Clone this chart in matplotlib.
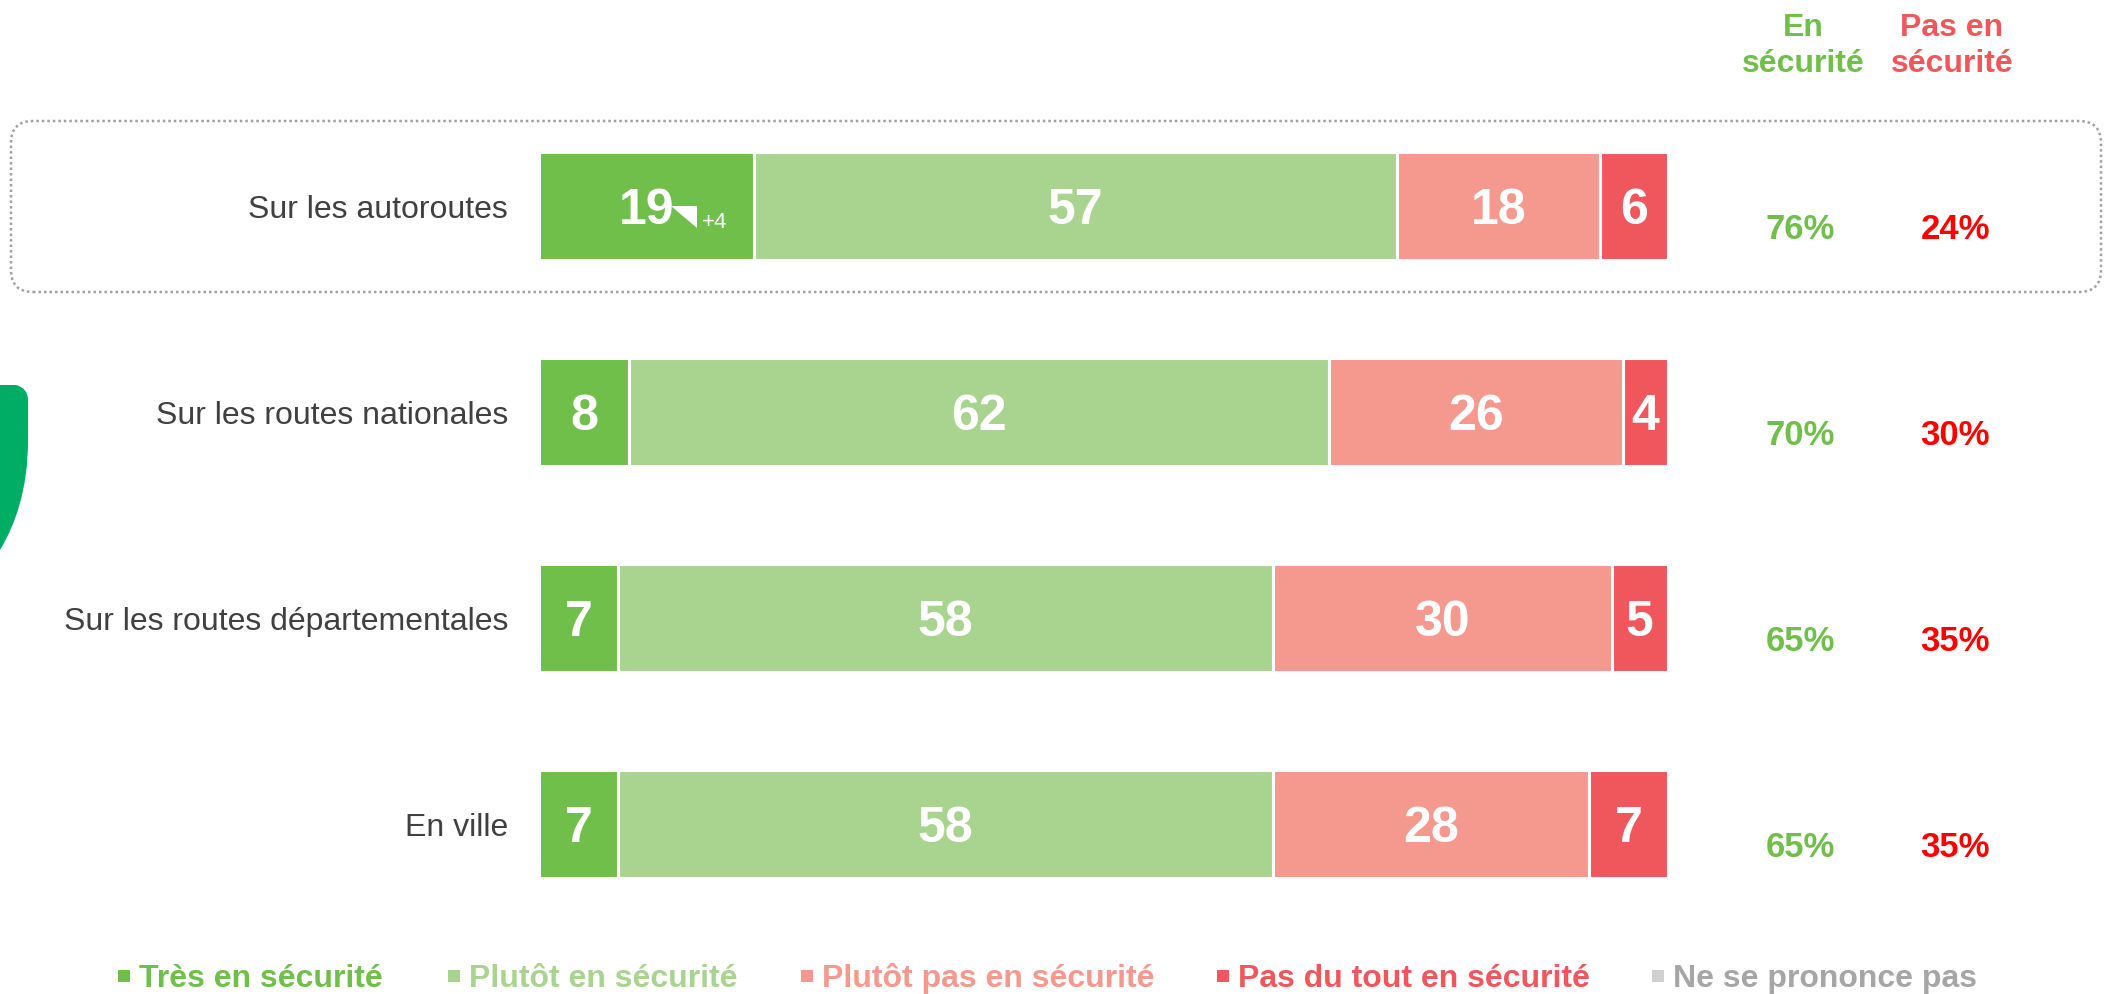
import numpy as np
import matplotlib
matplotlib.use('Agg')
from matplotlib import pyplot as plt
from matplotlib import transforms
from matplotlib.patches import FancyBboxPatch, Rectangle, Polygon, PathPatch
from matplotlib.path import Path

plt.rcParams['font.family'] = ['Liberation Sans', 'DejaVu Sans']

categories = ['Sur les autoroutes', 'Sur les routes nationales',
              'Sur les routes départementales', 'En ville']
tres = [19, 8, 7, 7]
plutot = [57, 62, 58, 58]
plutot_pas = [18, 26, 30, 28]
pas_du_tout = [6, 4, 5, 7]
en_securite = [76, 70, 65, 65]
pas_en_securite = [24, 30, 35, 35]
evolution = ['+4', None, None, None]

series_labels = ['Très en sécurité', 'Plutôt en sécurité', 'Plutôt pas en sécurité',
                 'Pas du tout en sécurité', 'Ne se prononce pas']
series_colors = ['#70BF4B', '#A9D48F', '#F5988E', '#F0575C', '#D0D0D0']
legend_text_colors = ['#70BF4B', '#A9D48F', '#F5988E', '#F0575C', '#A6A6A6']

W, H = 2108, 994
fig = plt.figure(figsize=(W / 100, H / 100), dpi=100)


def px(x, y):
    # pixel position (from top-left) -> inches for fig.dpi_scale_trans
    return (x / 100.0, (H - y) / 100.0)


# axes: 0..100 spans px 539..1668, rows centred at 206..824
ax = fig.add_axes([539 / W, 1 - 927 / H, 1129 / W, 824 / H])
ax.set_xlim(0, 100)
ax.set_ylim(3.5, -0.5)
ax.axis('off')

y = np.arange(len(categories))
left = np.zeros(len(categories))
for vals, col in zip([tres, plutot, plutot_pas, pas_du_tout], series_colors):
    vals = np.array(vals, dtype=float)
    ax.barh(y, vals, left=left, height=0.52, color=col, edgecolor='white', linewidth=2.2)
    for yi, l, v in zip(y, left, vals):
        if v > 0:
            ax.text(l + v / 2, yi, '%d' % v, ha='center', va='center_baseline',
                    color='white', fontsize=36, fontweight='bold')
    left += vals

# evolution marker on first row
for yi, (ev, v) in enumerate(zip(evolution, tres)):
    if ev is None:
        continue
    trans = fig.dpi_scale_trans + transforms.ScaledTranslation(v / 2, yi, ax.transData)
    ax.add_patch(Polygon([(0.25, 0.0), (0.51, 0.0), (0.51, -0.22)], closed=True,
                         facecolor='white', edgecolor='none', transform=trans, clip_on=False))
    ax.text(0.56, -0.22, ev, transform=trans, ha='left', va='baseline',
            color='white', fontsize=16)

# category labels and totals
blend = transforms.blended_transform_factory(fig.transFigure, ax.transData)
for yi, cat in enumerate(categories):
    ax.text(508 / W, yi + 0.02, cat, transform=blend, ha='right', va='center',
            fontsize=23, color='#404040')
    ax.text(1800 / W, yi + 0.115, '%d%%' % en_securite[yi], transform=blend,
            ha='center', va='center', fontsize=25, fontweight='bold', color='#70BF4B')
    ax.text(1955 / W, yi + 0.115, '%d%%' % pas_en_securite[yi], transform=blend,
            ha='center', va='center', fontsize=25, fontweight='bold', color='#FF0000')

# column headers
fig.text(1803 / W, 1 - 46 / H, 'En\nsécurité', ha='center', va='center',
         fontsize=23, fontweight='bold', color='#70BF4B', linespacing=1.25)
fig.text(1952 / W, 1 - 46 / H, 'Pas en\nsécurité', ha='center', va='center',
         fontsize=23, fontweight='bold', color='#F0575C', linespacing=1.25)

# dotted highlight box around first row
x0, y0 = px(11, 292)
x1, y1 = px(2101, 121)
box = FancyBboxPatch((x0, y0), x1 - x0, y1 - y0,
                     boxstyle='round,pad=0,rounding_size=0.22',
                     facecolor='none', edgecolor='#A0A0A0', linewidth=1.8,
                     linestyle=(0, (1, 1.2)), transform=fig.dpi_scale_trans)
fig.add_artist(box)

# green decoration on the left edge
verts = [px(0, 385), px(16, 385), px(28, 388), px(28, 400), px(28, 440),
         px(28, 490), px(15, 525), px(0, 550), px(0, 385)]
codes = [Path.MOVETO, Path.LINETO, Path.CURVE3, Path.CURVE3, Path.LINETO,
         Path.CURVE4, Path.CURVE4, Path.CURVE4, Path.CLOSEPOLY]
fig.add_artist(PathPatch(Path(verts, codes), facecolor='#00AD65', edgecolor='none',
                         transform=fig.dpi_scale_trans))

# legend
legend_x = [118, 448, 801, 1217, 1652]
for lx, lab, col, tcol in zip(legend_x, series_labels, series_colors, legend_text_colors):
    sx, sy = px(lx, 982)
    fig.add_artist(Rectangle((sx, sy), 0.12, 0.12, facecolor=col, edgecolor='none',
                             transform=fig.dpi_scale_trans))
    fig.text((lx + 21) / W, 1 - 979 / H, lab, ha='left', va='center',
             fontsize=23, fontweight='bold', color=tcol)

fig.savefig('out.png', dpi=100)
